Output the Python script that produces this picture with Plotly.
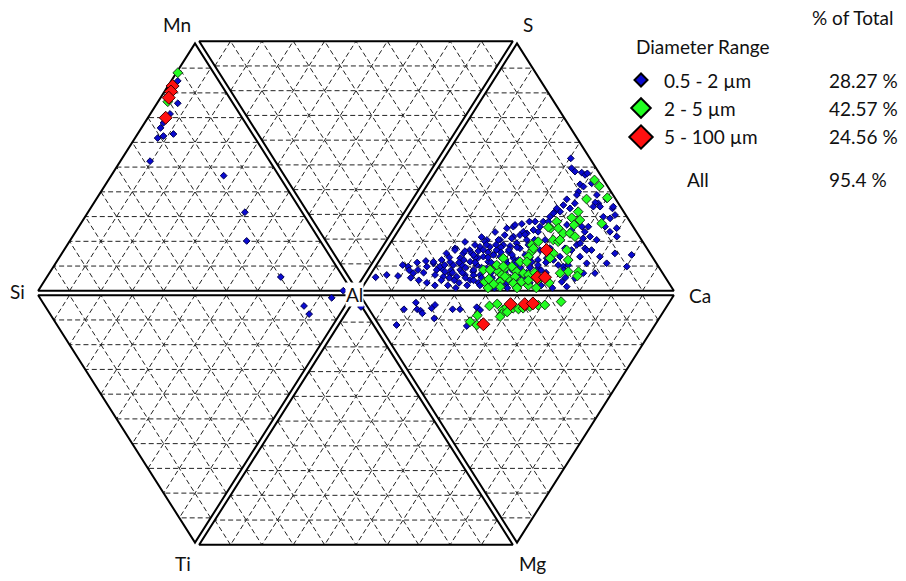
import numpy as np
import plotly.graph_objects as go

# ---------------- data (percent compositions, Al = remainder) ----------------
size_classes = ["0.5 - 2 µm", "2 - 5 µm", "5 - 100 µm"]
pct_of_total = [28.27, 42.57, 24.56]
pct_all = 95.4

# Upper-right triangle: (S %, Ca %)
sca_blue = [
    (53.0,40.2),(49.1,42.4),(47.8,44.1),(47.4,46.4),(46.5,47.9),(47.1,48.3),(42.8,48.2),(41.9,49.7),(39.9,49.1),(38.6,49.3),
    (43.2,51.6),(38.6,55.5),(35.3,57.6),(35.6,56.5),(34.0,58.8),(36.9,59.4),(33.3,63.0),(30.7,65.1),(29.4,64.2),(30.0,61.8),
    (36.9,47.0),(34.6,47.1),(32.0,47.4),(33.3,49.8),(35.3,50.3),(32.0,45.8),(30.0,45.2),(28.1,44.1),(28.1,41.6),(28.1,39.8),
    (27.2,37.9),(26.1,35.8),(25.5,34.1),(24.1,44.5),(24.8,42.7),(23.5,41.3),(22.8,39.5),(26.8,52.1),(24.8,54.6),(26.1,57.1),
    (24.1,59.0),(22.2,61.6),(26.1,59.1),(20.9,64.3),(21.5,59.8),(18.9,59.1),(17.6,62.3),(16.9,64.7),(16.9,58.5),(17.6,56.1),
    (14.3,56.2),(13.0,54.8),(13.7,52.4),(11.0,57.3),(10.4,59.2),(11.0,60.4),(14.3,62.4),(11.7,65.8),(14.3,68.6),(11.7,72.0),
    (7.8,70.3),(7.8,66.7),(5.8,65.1),(4.4,61.7),(2.5,64.2),(15.6,72.6),(24.1,66.8),(25.5,68.2),(26.1,64.3),(34.0,56.7),
    (34.0,62.9),(22.2,69.9),(16.9,63.2),(19.6,59.8),(10.4,78.9),(15.0,78.1),(33.3,45.7),(31.4,45.6),(28.1,45.7),(26.1,44.1),
    (26.8,36.0),(22.2,37.8),(20.9,34.3),(20.9,30.2),(18.2,29.4),(16.9,26.9),(15.6,25.5),(17.6,22.0),(9.7,21.7),(11.7,18.2),
    (10.4,16.8),(7.8,13.9),(7.1,6.0),(6.2,3.0),(10.4,11.0),(12.6,15.4),(12.3,17.9),(13.0,20.1),(10.4,20.9),(8.4,23.4),
    (7.4,25.5),(16.9,22.3),(16.5,25.6),(13.7,25.5),(11.0,24.7),(9.1,27.8),(7.1,30.3),(15.6,28.1),(16.5,29.7),(12.3,29.3),
    (11.0,32.0),(8.4,32.2),(7.1,35.0),(20.2,30.0),(18.2,32.5),(14.3,32.4),(12.3,34.9),(9.7,35.7),(20.9,33.8),(18.9,36.3),
    (16.9,35.2),(21.5,37.6),(19.6,40.1),(16.3,39.2),(14.3,37.6),(15.0,35.2),(24.1,39.9),(20.9,42.6),(17.6,42.1),(13.7,42.0),
    (11.7,41.0),(15.6,20.3),(9.1,20.5),(6.4,23.9),(6.4,28.1),(11.0,37.6),(8.3,42.1),(12.2,43.3),(15.0,45.0),(12.2,48.5),
    (9.8,51.6),(7.1,50.5),(5.9,39.3),(5.1,32.9),(11.0,27.4),(12.2,23.1),(13.8,31.0),(18.5,38.6),(20.9,48.3),(17.7,51.4),
    (16.9,48.7),(18.9,27.5),(20.1,23.8),(22.8,34.8),(24.0,31.2),(9.1,14.7),(6.7,9.7),(7.1,21.0),
    (14.0,30.0),(12.0,36.0),(10.0,39.0),(8.0,38.0),(6.0,36.0),(5.0,42.0),(4.0,45.0),(3.0,48.0),(6.0,45.0),(9.0,44.0),
    (13.0,40.0),(16.0,33.0),(18.0,36.0),(19.0,44.0),(14.0,47.0),(10.0,46.0),(7.0,47.0),(4.0,52.0),(3.0,40.0),(4.0,36.0),
    (5.0,28.0),(3.0,33.0),(2.0,30.0),(8.0,29.0),(19.0,31.0),(22.0,28.0),(23.0,41.0),(21.0,45.0),(17.0,46.0),(12.0,53.0),
    (8.0,55.0),(5.0,57.0),(3.0,56.0),(2.0,60.0),(9.0,60.0),(6.0,62.0),
    (14.0,22.0),(12.0,26.0),(10.0,29.0),(9.0,32.0),(7.0,33.0),(6.0,31.0),(5.0,34.0),(4.0,38.0),(3.0,37.0),(2.0,42.0),
    (2.0,46.0),(3.0,44.0),(5.0,47.0),(6.0,49.0),(8.0,49.0),(10.0,49.0),(11.0,44.0),(13.0,44.0),(15.0,41.0),(17.0,39.0),
    (18.0,41.0),(19.0,34.0),(17.0,31.0),(15.0,29.0),(13.0,27.0),(11.0,22.0),(9.0,25.0),(8.0,26.0),(6.0,26.0),(5.0,24.0),
    (4.0,30.0),(3.0,27.0),(10.0,34.0),(12.0,31.0),(14.0,34.0),(16.0,37.0),(13.0,50.0),(11.0,51.0),(9.0,53.0),(7.0,53.0),
    (4.0,20.0),(3.0,23.0),(5.0,17.0),(8.0,17.0),(9.0,12.0),(6.0,14.0),(12.0,13.0),(11.0,9.0),
]
sca_green = [
    (44.5,51.8),(42.1,54.5),(37.5,59.3),(37.0,53.1),(32.0,53.0),(29.6,52.2),(28.7,55.2),(26.8,54.3),(28.1,48.3),(25.5,47.7),
    (25.5,50.1),(23.5,52.6),(23.5,54.7),(22.2,56.9),(20.9,50.8),(20.2,52.7),(20.2,46.5),(18.9,45.1),(16.3,46.4),(15.6,53.5),
    (13.0,59.4),(27.4,62.6),(8.4,61.7),(8.4,64.9),(7.8,59.5),(6.7,65.4),(13.7,53.4),(14.3,46.4),(12.3,44.8),(9.7,44.0),
    (25.9,46.8),(20.9,52.9),(16.9,57.0),(4.4,37.8),(9.1,35.0),(9.1,37.1),(8.4,40.0),(13.7,38.9),(9.7,41.4),(10.4,43.2),
    (8.4,45.7),(12.3,46.9),(7.1,41.7),(5.8,44.4),(6.4,46.2),(7.8,48.1),(7.1,50.0),(4.4,42.5),(3.8,47.0),(4.4,49.2),
    (11.0,38.2),(17.6,46.3),(5.1,54.0),(3.0,52.0),(2.5,43.5),(6.0,53.0),(4.0,58.0),
    (2.0,40.0),(3.5,41.0),(5.5,38.5),(2.0,49.0),(6.5,43.0),(10.5,40.5),(8.0,51.5),(2.0,55.0),(5.0,51.0),
]
sca_red = [(16.9,50.7),(6.2,53.2),(6.2,55.6)]

# Lower-right triangle: (Ca %, Mg %)
camg_blue = [(11.7,6.4),(16.7,3.8),(15.8,6.4),(16.6,7.0),(16.6,8.0),(20.5,6.0),(22.2,4.7),(19.3,10.0),
             (26.8,6.4),(29.1,6.4),(34.7,5.6),(35.2,6.7),(6.3,12.6),(27.9,13.0)]
camg_green = [(38.9,5.1),(41.7,4.3),(42.2,6.7),(41.1,8.3),(40.1,9.3),(33.3,8.8),(29.8,11.3),(31.2,12.6),(45.8,6.0),
              (47.3,6.3),(51.3,5.4),(54.2,4.8),(56.3,4.7),(62.0,3.4),(48.9,6.0),(44.0,5.6),(43.2,7.5)]
camg_red = [(45.8,4.4),(50.2,4.4),(52.9,4.1),(33.4,12.3)]

# Upper-left triangle: (Mn %, Si %)
mnsi_blue = [(83.5,13.6),(74.7,18.0),(70.5,22.5),(67.0,26.3),(65.0,28.2),(61.8,28.9),(61.0,31.1),(62.6,25.4),
             (51.9,38.0),(46.2,18.0),(31.8,18.6),(20.5,23.7),(6.3,20.2),(0.9,3.5)]
mnsi_green = [(86.7,12.0),(75.3,20.8)]
mnsi_red = [(81.5,16.2),(79.3,17.8),(76.9,19.7),(69.0,24.6)]

# Lower-left triangle: (Si %, Ti %) ; bottom triangle: (Ti %, Mg %)
siti_blue = [(6.6,1.9),(13.6,5.1),(10.4,8.3)]
timg_blue = [(1.2,4.3)]

# ---------------- geometry ----------------
VERT_ANGLE = {"Ca": 0, "S": 60, "Mn": 120, "Si": 180, "Ti": 240, "Mg": 300}


def vpos(name):
    a = np.deg2rad(VERT_ANGLE[name])
    return np.array([np.cos(a), np.sin(a)])


TRIANGLES = [("S", "Ca"), ("Mn", "S"), ("Si", "Mn"), ("Ti", "Si"), ("Mg", "Ti"), ("Ca", "Mg")]
INSET = 0.0075
INRADIUS = np.sqrt(3) / 6


def inset_tri(v1, v2):
    C = np.zeros(2)
    A, B = vpos(v1), vpos(v2)
    G = (C + A + B) / 3
    k = 1 - INSET / INRADIUS
    return [G + k * (P - G) for P in (C, A, B)]


ox, oy, gx, gy = [], [], [], []
for v1, v2 in TRIANGLES:
    C, A, B = inset_tri(v1, v2)
    for P in (C, A, B, C):
        ox.append(P[0]); oy.append(P[1])
    ox.append(None); oy.append(None)
    for i in range(1, 10):
        f = i / 10
        segs = [
            (C + f * (A - C), C + f * (A - C) + (1 - f) * (B - C)),
            (C + f * (B - C), C + f * (B - C) + (1 - f) * (A - C)),
            (C + (1 - f) * (A - C), C + (1 - f) * (B - C)),
        ]
        for P1, P2 in segs:
            gx += [P1[0], P2[0], None]
            gy += [P1[1], P2[1], None]


def to_xy(pairs, v1, v2):
    A, B = vpos(v1), vpos(v2)
    pts = [p / 100 * A + q / 100 * B for p, q in pairs]
    return [pt[0] for pt in pts], [pt[1] for pt in pts]


def collect(groups):
    xs, ys = [], []
    for pairs, v1, v2 in groups:
        x, y = to_xy(pairs, v1, v2)
        xs += x; ys += y
    return xs, ys


blue_xy = collect([(sca_blue, "S", "Ca"), (camg_blue, "Ca", "Mg"), (mnsi_blue, "Mn", "Si"),
                   (siti_blue, "Si", "Ti"), (timg_blue, "Ti", "Mg")])
green_xy = collect([(sca_green, "S", "Ca"), (camg_green, "Ca", "Mg"), (mnsi_green, "Mn", "Si")])
red_xy = collect([(sca_red, "S", "Ca"), (camg_red, "Ca", "Mg"), (mnsi_red, "Mn", "Si")])

FILL = ["#0a0ad0", "#22ff22", "#ff1010"]
EDGE = ["#000050", "#1a3a1a", "#400000"]
DATA_SIZE = [5.2, 7.5, 10]
LEG_SIZE = [10, 15, 18]

fig = go.Figure()
fig.add_trace(go.Scatter(x=gx, y=gy, mode="lines", hoverinfo="skip",
                         line=dict(color="#222222", width=1, dash="5px,3px")))
fig.add_trace(go.Scatter(x=ox, y=oy, mode="lines", hoverinfo="skip",
                         line=dict(color="black", width=2)))
for i, (xs, ys) in enumerate([blue_xy, green_xy, red_xy]):
    fig.add_trace(go.Scatter(x=xs, y=ys, mode="markers", name=size_classes[i],
                             marker=dict(symbol="diamond", size=DATA_SIZE[i], color=FILL[i],
                                         line=dict(color=EDGE[i], width=1))))

# legend glyphs on a pixel overlay axis
leg_y = [80, 108, 137]
for i in range(3):
    fig.add_trace(go.Scatter(x=[641], y=[leg_y[i]], xaxis="x2", yaxis="y2", mode="markers",
                             hoverinfo="skip",
                             marker=dict(symbol="diamond", size=LEG_SIZE[i], color=FILL[i],
                                         line=dict(color="black", width=2))))

W, H = 906, 581
CX, CY, SX, SY = 356, 293, 322, 293.3
TXT = "#111111"
FONT = "Lato, 'Open Sans', sans-serif"

ann = []
lab = {"Mn": dict(xanchor="center", yanchor="bottom", xshift=-18, yshift=1),
       "S": dict(xanchor="center", yanchor="bottom", xshift=11, yshift=1),
       "Si": dict(xanchor="right", yanchor="middle", xshift=-7, yshift=2),
       "Ca": dict(xanchor="left", yanchor="middle", xshift=9, yshift=-2),
       "Ti": dict(xanchor="center", yanchor="top", xshift=-12, yshift=-3),
       "Mg": dict(xanchor="center", yanchor="top", xshift=15, yshift=-3)}
for name, kw in lab.items():
    p = vpos(name)
    ann.append(dict(x=p[0], y=p[1], xref="x", yref="y", text=name, showarrow=False,
                    font=dict(size=19, color=TXT, family=FONT), **kw))
ann.append(dict(x=0, y=0, xref="x", yref="y", text="Al", showarrow=False, bgcolor="white",
                xshift=-2, yshift=-1, borderpad=0, font=dict(size=19, color=TXT, family=FONT)))


def pann(px, py, text, xanchor="left"):
    ann.append(dict(x=px / W, y=1 - py / H, xref="paper", yref="paper", text=text, showarrow=False,
                    xanchor=xanchor, yanchor="middle", font=dict(size=19, color=TXT, family=FONT)))


pann(896, 18, "% of Total", "right")
pann(634, 46, "Diameter Range")
for i in range(3):
    pann(662, leg_y[i], size_classes[i])
    pann(827, leg_y[i], f"{pct_of_total[i]:.2f} %")
pann(685, 180, "All")
pann(827, 180, f"{pct_all} %")

fig.update_layout(
    width=W, height=H, margin=dict(l=0, r=0, t=0, b=0),
    paper_bgcolor="white", plot_bgcolor="white", showlegend=False,
    xaxis=dict(range=[-CX / SX, (W - CX) / SX], visible=False, fixedrange=True),
    yaxis=dict(range=[-(H - CY) / SY, CY / SY], visible=False, fixedrange=True),
    xaxis2=dict(range=[0, W], overlaying="x", visible=False, fixedrange=True),
    yaxis2=dict(range=[H, 0], overlaying="y", visible=False, fixedrange=True),
    annotations=ann,
)
fig.write_html("out.html")
